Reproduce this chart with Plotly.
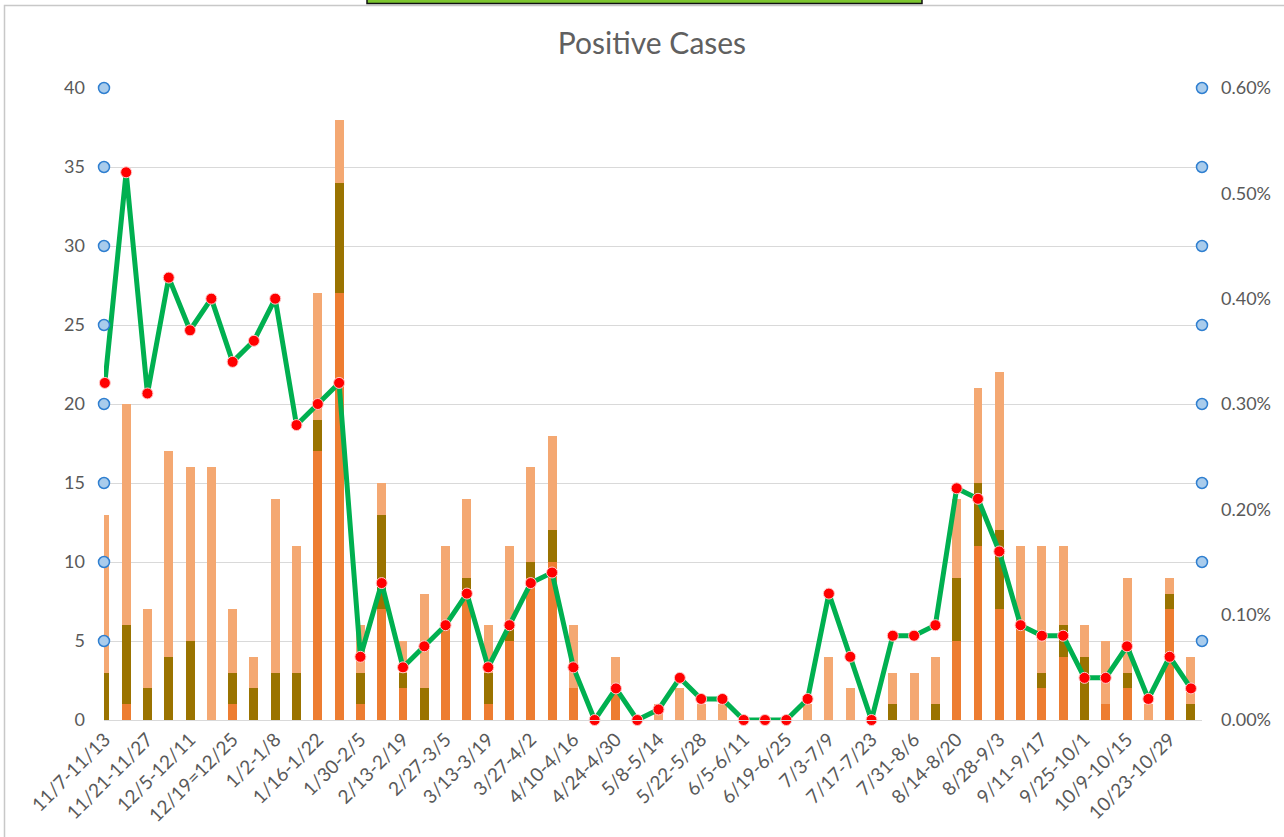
import plotly.graph_objects as go

weeks = [
    "11/7-11/13", "11/14-11/20", "11/21-11/27", "11/28-12/4", "12/5-12/11", "12/12-12/18",
    "12/19=12/25", "12/26-1/1", "1/2-1/8", "1/9-1/15", "1/16-1/22", "1/23-1/29",
    "1/30-2/5", "2/6-2/12", "2/13-2/19", "2/20-2/26", "2/27-3/5", "3/6-3/12",
    "3/13-3/19", "3/20-3/26", "3/27-4/2", "4/3-4/9", "4/10-4/16", "4/17-4/23",
    "4/24-4/30", "5/1-5/7", "5/8-5/14", "5/15-5/21", "5/22-5/28", "5/29-6/4",
    "6/5-6/11", "6/12-6/18", "6/19-6/25", "6/26-7/2", "7/3-7/9", "7/10-7/16",
    "7/17-7/23", "7/24-7/30", "7/31-8/6", "8/7-8/13", "8/14-8/20", "8/21-8/27",
    "8/28-9/3", "9/4-9/10", "9/11-9/17", "9/18-9/24", "9/25-10/1", "10/2-10/8",
    "10/9-10/15", "10/16-10/22", "10/23-10/29", "10/30-11/5",
]

series_a = [0, 1, 0, 0, 0, 0, 1, 0, 0, 0, 17, 27, 1, 7, 2, 0, 6, 8, 1, 5, 9, 10, 2, 0, 2, 0,
            0, 0, 0, 0, 0, 0, 0, 0, 0, 0, 0, 0, 0, 0, 5, 11, 7, 6, 2, 4, 0, 1, 2, 0, 7, 0]
series_b = [3, 5, 2, 4, 5, 0, 2, 2, 3, 3, 2, 7, 2, 6, 1, 2, 0, 1, 2, 1, 1, 2, 0, 0, 0, 0,
            0, 0, 0, 0, 0, 0, 0, 0, 0, 0, 0, 1, 0, 1, 4, 4, 5, 0, 1, 2, 4, 0, 1, 0, 1, 1]
series_c = [10, 14, 5, 13, 11, 16, 4, 2, 11, 8, 8, 4, 3, 2, 2, 6, 5, 5, 3, 5, 6, 6, 4, 0, 2, 0,
            1, 2, 1, 1, 0, 0, 0, 1, 4, 2, 0, 2, 3, 3, 5, 6, 10, 5, 8, 5, 2, 4, 6, 1, 1, 3]

positivity_pct = [0.32, 0.52, 0.31, 0.42, 0.37, 0.40, 0.34, 0.36, 0.40, 0.28, 0.30, 0.32,
                  0.06, 0.13, 0.05, 0.07, 0.09, 0.12, 0.05, 0.09, 0.13, 0.14, 0.05, 0.00,
                  0.03, 0.00, 0.01, 0.04, 0.02, 0.02, 0.00, 0.00, 0.00, 0.02, 0.12, 0.06,
                  0.00, 0.08, 0.08, 0.09, 0.22, 0.21, 0.16, 0.09, 0.08, 0.08, 0.04, 0.04,
                  0.07, 0.02, 0.06, 0.03]
positivity = [v / 100 for v in positivity_pct]

grid_marks = [5, 10, 15, 20, 25, 30, 35, 40]
mark_sides = [0, 1]

TXT = "#595959"
FONT = "Lato"

fig = go.Figure()
fig.add_trace(go.Bar(x=weeks, y=series_a, name="A", marker=dict(color="#ED7D31", line_width=0)))
fig.add_trace(go.Bar(x=weeks, y=series_b, name="B", marker=dict(color="#9A7300", line_width=0)))
fig.add_trace(go.Bar(x=weeks, y=series_c, name="C", marker=dict(color="#F4A872", line_width=0)))
fig.add_trace(go.Scatter(
    x=weeks, y=positivity, yaxis="y2", mode="lines+markers", name="Rate", cliponaxis=False,
    line=dict(color="#00B050", width=5),
    marker=dict(color="#FF0000", size=11, line=dict(color="#FFC8C8", width=1)),
))
for side in mark_sides:
    fig.add_trace(go.Scatter(
        x=[side] * len(grid_marks), y=grid_marks, xaxis="x2", yaxis="y", mode="markers",
        cliponaxis=False, hoverinfo="skip",
        marker=dict(color="#A9CCEC", size=11, line=dict(color="#2F7FD0", width=1.5)),
    ))

W, H = 1284, 837
L, R, T, B = 104, 82, 88, 117
pw, ph = W - L - R, H - T - B
def px(x):
    return (x - L) / pw
def py(y):
    return (H - B - y) / ph

shapes = [
    dict(type="rect", xref="paper", yref="paper", x0=px(4.5), x1=px(1300),
         y0=py(850), y1=py(5.5), line=dict(color="#C8C8C8", width=1.5),
         fillcolor="rgba(0,0,0,0)", layer="below"),
    dict(type="rect", xref="paper", yref="paper", x0=px(367), x1=px(922),
         y0=py(3.5), y1=py(-4), line=dict(color="#111111", width=1.5),
         fillcolor="#7DC62F", layer="above"),
]

fig.update_layout(
    width=W, height=H, autosize=False,
    margin=dict(l=L, r=R, t=T, b=B),
    barmode="stack", bargap=0.58,
    plot_bgcolor="white", paper_bgcolor="white",
    showlegend=False,
    font=dict(family=FONT, color=TXT, size=17),
    title=dict(text="Positive Cases", x=652 / W, xanchor="center", y=1 - 43 / H,
               yanchor="middle", font=dict(family=FONT, size=30, color="#606060")),
    xaxis=dict(type="category", range=[-0.04, 51.52], tickvals=weeks[::2], ticktext=weeks[::2],
               tickangle=-45, showgrid=False, showline=True, linecolor="#D9D9D9", linewidth=1,
               ticks="", automargin=False, tickfont=dict(size=19, color=TXT)),
    xaxis2=dict(overlaying="x", range=[0, 1], visible=False, automargin=False),
    yaxis=dict(range=[0, 40], dtick=5, showgrid=True, gridcolor="#D9D9D9", gridwidth=1,
               zeroline=False, showline=False, ticks="", ticklabelstandoff=18, automargin=False,
               tickfont=dict(size=18, color=TXT)),
    yaxis2=dict(range=[0, 0.006], dtick=0.001, tickformat=".2%", overlaying="y", side="right",
                showgrid=False, zeroline=False, showline=False, ticks="", ticklabelstandoff=18,
                automargin=False, tickfont=dict(size=18, color=TXT)),
    shapes=shapes,
)

fig.write_html("out.html", config={"displayModeBar": False},
               post_script="document.body.style.margin='0';")
